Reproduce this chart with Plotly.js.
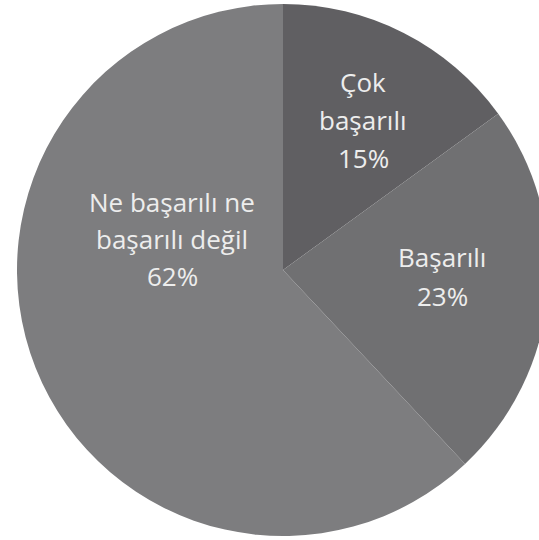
<!DOCTYPE html>
<html>
<head>
<meta charset="utf-8">
<script src="https://cdn.plot.ly/plotly-3.0.1.min.js"></script>
<style>
html,body{margin:0;padding:0;overflow:hidden;background:#fff;width:539px;height:540px;}
#chart{width:566px;height:540px;}
</style>
</head>
<body>
<div id="chart"></div>
<script>
// Data
const categories = ["Çok başarılı", "Başarılı", "Ne başarılı ne başarılı değil"];
const labelLines = [["Çok", "başarılı"], ["Başarılı"], ["Ne başarılı ne", "başarılı değil"]];
const values = [15, 23, 62];
const percentLabels = ["15%", "23%", "62%"];
const colors = ["#605f62", "#707072", "#7d7d7f"];

// Layout geometry (pixels in the page)
const W = 566, H = 540;
const M = {l: 17, r: 17, t: 4, b: 4};
const plotW = W - M.l - M.r, plotH = H - M.t - M.b;
// label anchor (center x, first-line y, line step) for each slice
const labelAnchor = [
  {x: 363, y: 82, step: 38},
  {x: 442, y: 257, step: 39},
  {x: 172, y: 202, step: 37}
];

const trace = {
  type: "pie",
  values: values,
  labels: categories,
  textinfo: "none",
  sort: false,
  direction: "clockwise",
  rotation: 0,
  marker: {colors: colors, line: {width: 0}},
  hoverinfo: "none",
  showlegend: false
};

const annotations = [];
categories.forEach((c, i) => {
  const lines = labelLines[i].concat([percentLabels[i]]);
  const a = labelAnchor[i];
  lines.forEach((t, k) => {
    const py = a.y + k * a.step;
    annotations.push({
      xref: "paper", yref: "paper",
      x: (a.x - M.l) / plotW,
      y: (H - M.b - py) / plotH,
      xanchor: "center", yanchor: "middle",
      text: t, showarrow: false,
      font: {family: "Open Sans, sans-serif", size: 26, color: "#ededed"}
    });
  });
});

const layout = {
  width: W,
  height: H,
  margin: {l: M.l, r: M.r, t: M.t, b: M.b, pad: 0},
  paper_bgcolor: "#ffffff",
  showlegend: false,
  annotations: annotations
};

Plotly.newPlot("chart", [trace], layout, {displayModeBar: false, staticPlot: true});
</script>
</body>
</html>
